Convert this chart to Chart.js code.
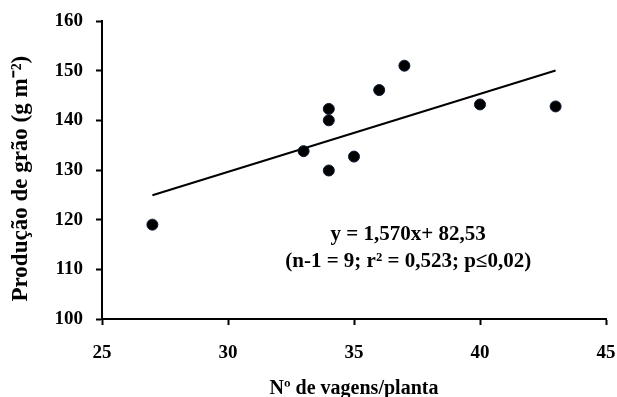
<!DOCTYPE html>
<html>
<head>
<meta charset="utf-8">
<script src="https://cdn.jsdelivr.net/npm/chart.js@4.4.1/dist/chart.umd.min.js"></script>
<style>
  html, body { margin: 0; padding: 0; background: #fff; }
  #wrap { width: 617px; height: 397px; }
</style>
</head>
<body>
<div id="wrap"><canvas id="myChart"></canvas></div>
<script>
const vagens = [27, 33, 34, 34, 34, 35, 36, 37, 40, 43];
const producao = [119.0, 133.8, 142.3, 140.0, 129.9, 132.7, 146.1, 151.0, 143.2, 142.8];
const trendX = [27, 43];
const trendY = [124.92, 150.04];
const eqLines = ["y = 1,570x+ 82,53", "(n-1 = 9; r\u00B2 = 0,523; p\u22640,02)"];

const serif = "'Liberation Serif', 'Times New Roman', serif";

const pontos = vagens.map((v, i) => ({ x: v, y: producao[i] }));
const reta = trendX.map((v, i) => ({ x: v, y: trendY[i] }));

const eqPlugin = {
  id: "eqText",
  afterDatasetsDraw(chart) {
    const ctx = chart.ctx;
    const xs = chart.scales.x, ys = chart.scales.y;
    ctx.save();
    ctx.fillStyle = "#000";
    ctx.font = "bold 21px " + serif;
    ctx.textAlign = "center";
    ctx.textBaseline = "middle";
    ctx.fillText(eqLines[0], xs.getPixelForValue(37.15), ys.getPixelForValue(116.9));
    ctx.fillText(eqLines[1], xs.getPixelForValue(37.15), ys.getPixelForValue(111.5));
    ctx.restore();
  }
};

new Chart("myChart", {
  type: "scatter",
  data: {
    datasets: [{
      data: pontos,
      backgroundColor: "#000",
      borderColor: "#0b1a33",
      borderWidth: 1,
      pointRadius: 5.5
    }, {
      type: "line",
      data: reta,
      borderColor: "#000",
      borderWidth: 2,
      pointRadius: 0,
      fill: false
    }]
  },
  options: {
    responsive: true,
    maintainAspectRatio: false,
    animation: false,
    layout: { padding: 0 },
    plugins: {
      legend: { display: false },
      tooltip: { enabled: false }
    },
    scales: {
      x: {
        type: "linear",
        min: 25, max: 45,
        afterFit: s => { s.height = 78; s.paddingLeft = 0; s.paddingRight = 11; },
        ticks: { stepSize: 5, color: "#000", padding: 17, font: { family: serif, size: 19, weight: "bold" } },
        grid: { display: true, drawOnChartArea: false, drawTicks: true, tickLength: 6, color: "#000", tickWidth: 2 },
        border: { display: true, color: "#000", width: 2 },
        title: {
          display: true,
          text: "N\u00BA de vagens/planta",
          color: "#000",
          padding: { top: 0, bottom: -4 },
          font: { family: serif, size: 20, weight: "bold" }
        }
      },
      y: {
        min: 100, max: 160,
        afterFit: s => { s.width = 102; s.paddingTop = 21; s.paddingBottom = 0; },
        ticks: { stepSize: 10, color: "#000", padding: 13, font: { family: serif, size: 19, weight: "bold" } },
        grid: { display: true, drawOnChartArea: false, drawTicks: true, tickLength: 6, color: "#000", tickWidth: 2 },
        border: { display: true, color: "#000", width: 2 },
        title: {
          display: true,
          text: "Produção de grão (g m\u207B\u00B2)\u00A0\u00A0\u00A0",
          color: "#000",
          padding: { top: 7, bottom: 0 },
          font: { family: serif, size: 23, weight: "bold" }
        }
      }
    }
  },
  plugins: [eqPlugin]
});
</script>
</body>
</html>
